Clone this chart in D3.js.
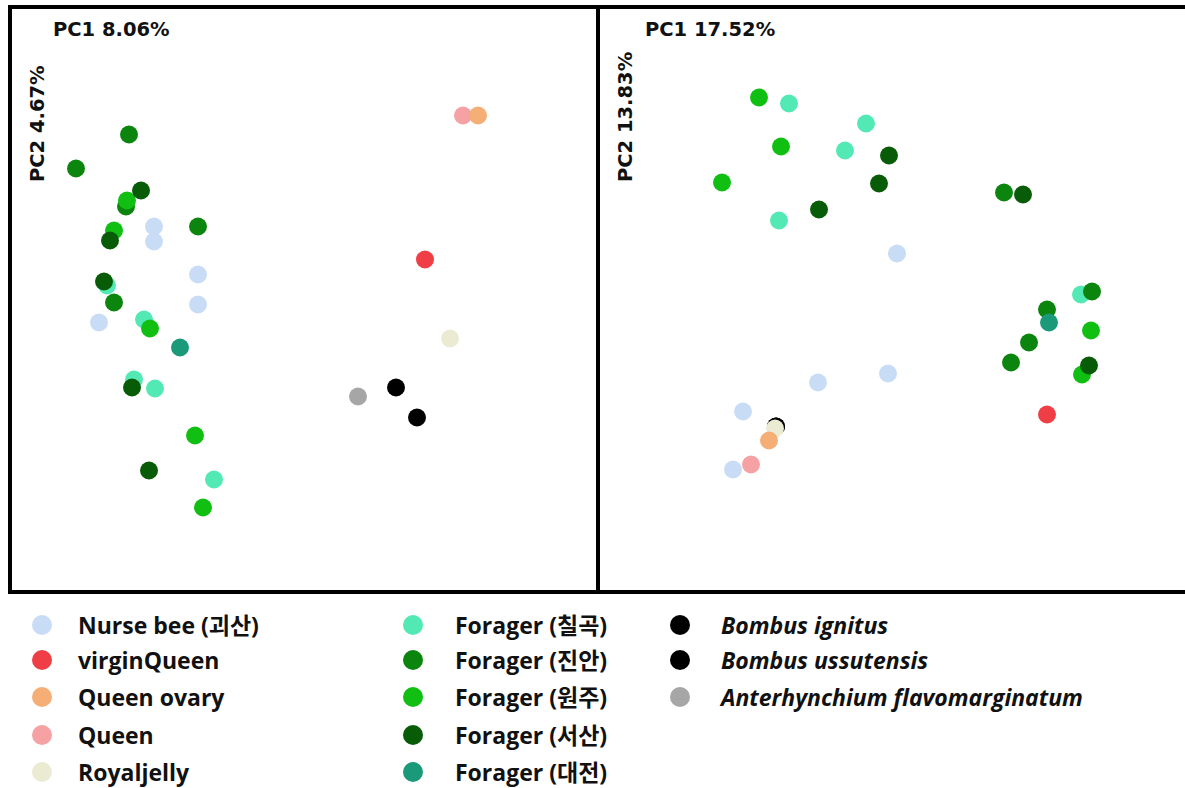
<!DOCTYPE html>
<html>
<head>
<meta charset="utf-8">
<script src="https://cdn.jsdelivr.net/npm/d3@7"></script>
<style>
  body { margin: 0; background: #fff; }
  text { font-family: "Open Sans", "Noto Sans CJK KR", sans-serif; font-weight: bold; fill: #111; }
  .axis-title { font-family: "DejaVu Sans", "Noto Sans CJK KR", sans-serif; }
</style>
</head>
<body>
<div id="chart"></div>
<script>
// groups in legend order
const groups = [
    "Nurse bee (괴산)", "virginQueen", "Queen ovary", "Queen", "Royaljelly",
    "Forager (칠곡)", "Forager (진안)", "Forager (원주)", "Forager (서산)", "Forager (대전)",
    "Bombus ignitus", "Bombus ussutensis", "Anterhynchium flavomarginatum"
]
const groupColors = [
    "#c9dcf6", "#ef3e46", "#f4ae76", "#f6a1a4", "#ebead2",
    "#52e9b5", "#0b850d", "#10bf12", "#085c08", "#1a9a79",
    "#000000", "#000000", "#a6a6a6"
]
const italicGroups = ["Bombus ignitus", "Bombus ussutensis", "Anterhynchium flavomarginatum"]

const axisTitles = [
    { pc1: "PC1 8.06%", pc2: "PC2 4.67%" },
    { pc1: "PC1 17.52%", pc2: "PC2 13.83%" }
]

// left panel scores (draw order)
const leftPoints = [
    { g: "Nurse bee (괴산)", x: -15.0, y: 7.3 },
    { g: "Nurse bee (괴산)", x: -15.0, y: 5.8 },
    { g: "Nurse bee (괴산)", x: -10.6, y: 2.5 },
    { g: "Nurse bee (괴산)", x: -10.6, y: -0.5 },
    { g: "Nurse bee (괴산)", x: -20.5, y: -2.3 },
    { g: "virginQueen", x: 12.1, y: 4.0 },
    { g: "Royaljelly", x: 14.6, y: -3.9 },
    { g: "Queen", x: 15.9, y: 18.4 },
    { g: "Queen ovary", x: 17.4, y: 18.4 },
    { g: "Forager (칠곡)", x: -19.7, y: 1.4 },
    { g: "Forager (칠곡)", x: -16.0, y: -2.0 },
    { g: "Forager (칠곡)", x: -17.0, y: -8.0 },
    { g: "Forager (칠곡)", x: -14.9, y: -8.9 },
    { g: "Forager (칠곡)", x: -9.0, y: -18.0 },
    { g: "Forager (진안)", x: -17.5, y: 16.5 },
    { g: "Forager (진안)", x: -22.8, y: 13.1 },
    { g: "Forager (진안)", x: -17.8, y: 9.3 },
    { g: "Forager (진안)", x: -10.6, y: 7.3 },
    { g: "Forager (진안)", x: -19.0, y: -0.3 },
    { g: "Forager (원주)", x: -17.7, y: 9.9 },
    { g: "Forager (원주)", x: -19.0, y: 6.9 },
    { g: "Forager (원주)", x: -15.4, y: -2.9 },
    { g: "Forager (원주)", x: -10.9, y: -13.6 },
    { g: "Forager (원주)", x: -10.1, y: -20.8 },
    { g: "Forager (서산)", x: -16.3, y: 10.9 },
    { g: "Forager (서산)", x: -19.4, y: 5.9 },
    { g: "Forager (서산)", x: -20.0, y: 1.8 },
    { g: "Forager (서산)", x: -17.2, y: -8.8 },
    { g: "Forager (서산)", x: -15.5, y: -17.1 },
    { g: "Forager (대전)", x: -12.4, y: -4.8 },
    { g: "Bombus ignitus", x: 9.2, y: -8.8 },
    { g: "Bombus ussutensis", x: 11.3, y: -11.8 },
    { g: "Anterhynchium flavomarginatum", x: 5.4, y: -9.7 }
]

// right panel scores (draw order)
const rightPoints = [
    { g: "Nurse bee (괴산)", x: 0.5, y: 4.6 },
    { g: "Nurse bee (괴산)", x: -0.4, y: -7.4 },
    { g: "Nurse bee (괴산)", x: -7.4, y: -8.3 },
    { g: "Nurse bee (괴산)", x: -14.9, y: -11.2 },
    { g: "Nurse bee (괴산)", x: -15.9, y: -17.0 },
    { g: "virginQueen", x: 15.5, y: -11.5 },
    { g: "Anterhynchium flavomarginatum", x: -11.6, y: -12.7 },
    { g: "Bombus ussutensis", x: -11.6, y: -12.7 },
    { g: "Bombus ignitus", x: -11.6, y: -12.7 },
    { g: "Royaljelly", x: -11.7, y: -12.9 },
    { g: "Queen ovary", x: -12.3, y: -14.1 },
    { g: "Queen", x: -14.1, y: -16.5 },
    { g: "Forager (칠곡)", x: -10.3, y: 19.6 },
    { g: "Forager (칠곡)", x: -2.6, y: 17.6 },
    { g: "Forager (칠곡)", x: -4.7, y: 14.9 },
    { g: "Forager (칠곡)", x: -11.3, y: 7.9 },
    { g: "Forager (칠곡)", x: 18.9, y: 0.5 },
    { g: "Forager (진안)", x: 11.2, y: 10.7 },
    { g: "Forager (진안)", x: 20.0, y: 0.8 },
    { g: "Forager (진안)", x: 15.5, y: -1.0 },
    { g: "Forager (진안)", x: 13.7, y: -4.3 },
    { g: "Forager (진안)", x: 11.9, y: -6.3 },
    { g: "Forager (원주)", x: -13.3, y: 20.2 },
    { g: "Forager (원주)", x: -11.1, y: 15.3 },
    { g: "Forager (원주)", x: -17.0, y: 11.7 },
    { g: "Forager (원주)", x: 19.9, y: -3.1 },
    { g: "Forager (원주)", x: 19.0, y: -7.5 },
    { g: "Forager (서산)", x: -0.3, y: 14.4 },
    { g: "Forager (서산)", x: -1.3, y: 11.6 },
    { g: "Forager (서산)", x: -7.3, y: 9.0 },
    { g: "Forager (서산)", x: 13.1, y: 10.5 },
    { g: "Forager (서산)", x: 19.7, y: -6.6 },
    { g: "Forager (대전)", x: 15.7, y: -2.3 }
]

const svgW = 1185
const svgH = 788

const svg = d3.select("#chart")
    .append("svg")
    .attr("width", svgW)
    .attr("height", svgH)

const color = d3.scaleOrdinal()
    .domain(groups)
    .range(groupColors)

// right frame runs off the edge of the picture
const panels = [
    { left: 10, frameW: 588, titleDx: 43, data: leftPoints, titles: axisTitles[0] },
    { left: 598, frameW: 600, titleDx: 47, data: rightPoints, titles: axisTitles[1] }
]
const panelW = 588
const panelTop = 7
const panelH = 585

panels.forEach(p => {
    const g = svg.append("g")

    const x = d3.scaleLinear()
        .domain([-29.4, 29.4])
        .range([p.left, p.left + panelW])
    const y = d3.scaleLinear()
        .domain([29.25, -29.25])
        .range([panelTop, panelTop + panelH])

    g.selectAll("circle")
        .data(p.data)
        .enter().append("circle")
        .attr("cx", d => x(d.x))
        .attr("cy", d => y(d.y))
        .attr("r", 9)
        .attr("fill", d => color(d.g))

    g.append("rect")
        .attr("x", p.left)
        .attr("y", panelTop)
        .attr("width", p.frameW)
        .attr("height", panelH)
        .attr("fill", "none")
        .attr("stroke", "#000")
        .attr("stroke-width", 4)

    g.append("text")
        .attr("class", "axis-title")
        .attr("x", p.left + p.titleDx)
        .attr("y", 36)
        .style("font-size", "19.5px")
        .text(p.titles.pc1)

    g.append("text")
        .attr("class", "axis-title")
        .attr("transform", `translate(${p.left + 34},182) rotate(-90)`)
        .style("font-size", "19.5px")
        .text(p.titles.pc2)
})

// legend
const legendDotX = [42, 413, 680]
const legendTextX = [78, 455, 721]
const legendRowY = [625, 660, 697, 735, 772]

const legend = svg.append("g")

legend.selectAll("circle")
    .data(groups)
    .enter().append("circle")
    .attr("cx", (d, i) => legendDotX[Math.floor(i / 5)])
    .attr("cy", (d, i) => legendRowY[i % 5])
    .attr("r", 10)
    .attr("fill", d => color(d))

legend.selectAll("text")
    .data(groups)
    .enter().append("text")
    .attr("x", (d, i) => legendTextX[Math.floor(i / 5)])
    .attr("y", (d, i) => legendRowY[i % 5])
    .attr("dy", "0.37em")
    .style("font-size", "23px")
    .style("font-style", d => italicGroups.includes(d) ? "italic" : "normal")
    .text(d => d)
</script>
</body>
</html>
